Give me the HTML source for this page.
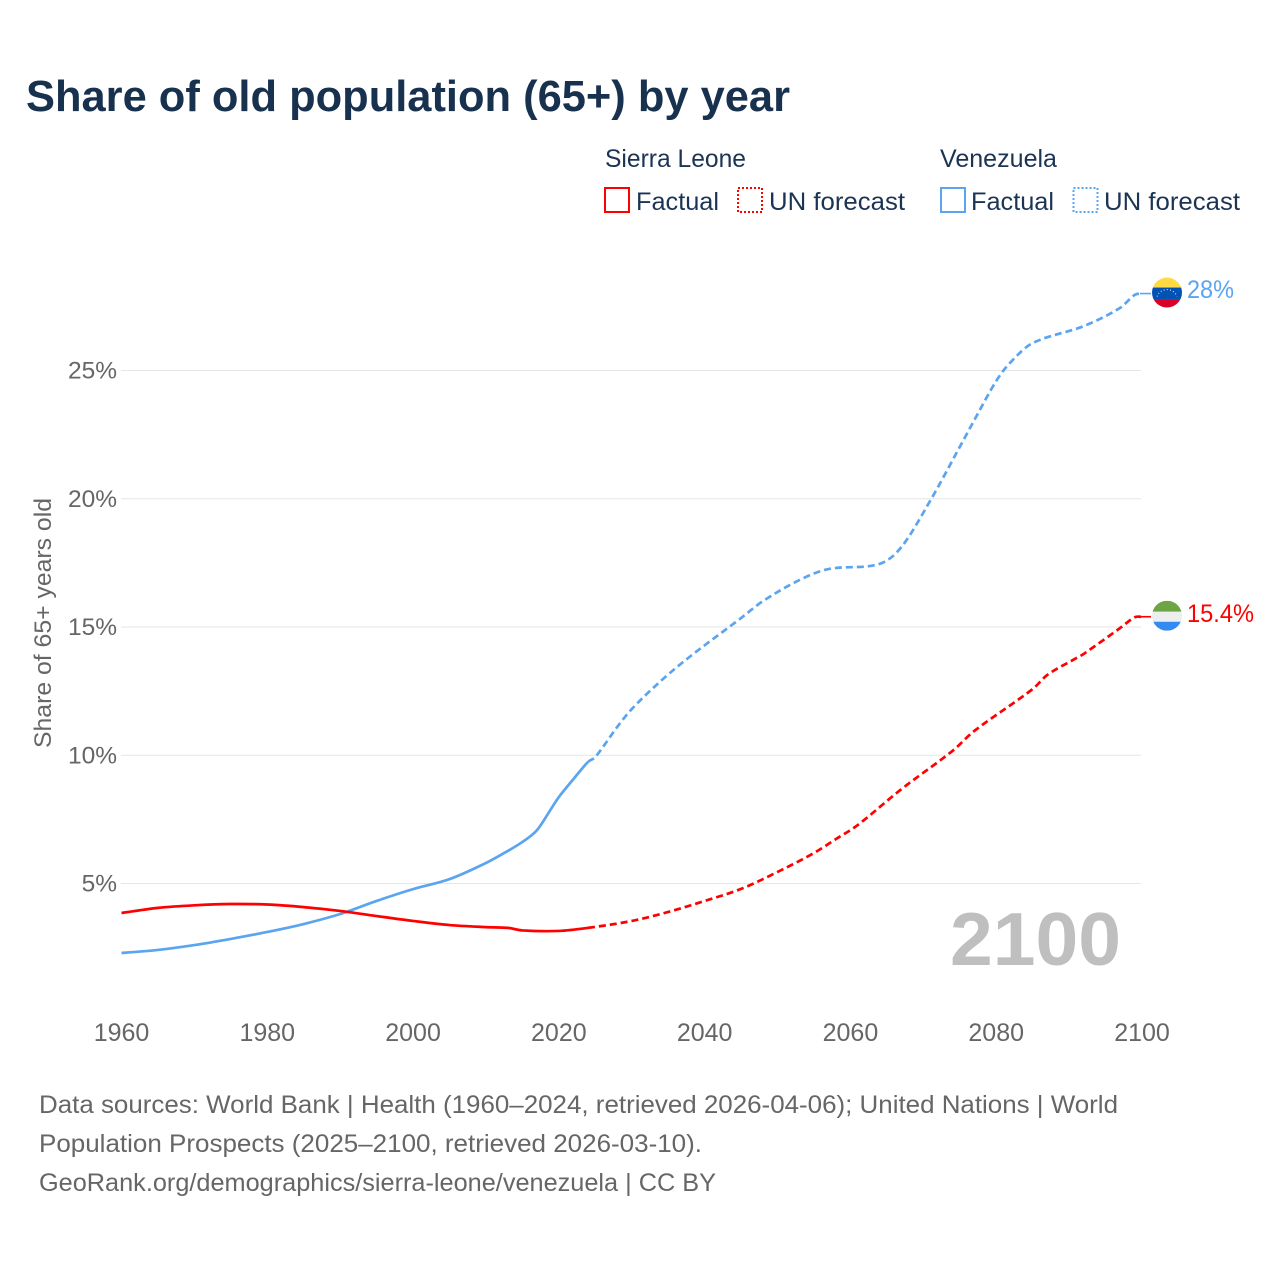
<!DOCTYPE html>
<html lang="en">
<head>
<meta charset="utf-8">
<title>Share of old population (65+) by year</title>
<style>
html,body{margin:0;padding:0;background:#fff;}
svg{display:block;font-family:"Liberation Sans",sans-serif;}
</style>
</head>
<body>
<svg id="chart" xmlns="http://www.w3.org/2000/svg" width="1280" height="1280" viewBox="0 0 1280 1280">
  <rect width="1280" height="1280" fill="#ffffff"/>
  <defs>
    <clipPath id="clip-ve"><circle cx="0" cy="0" r="15"/></clipPath>
    <clipPath id="clip-sl"><circle cx="0" cy="0" r="15"/></clipPath>
  </defs>
  <text x="26" y="111" font-size="44" font-weight="700" fill="#18314f" textLength="764" lengthAdjust="spacingAndGlyphs">Share of old population (65+) by year</text>

  <g font-size="25" fill="#1b3454">
    <text x="605" y="167" textLength="141" lengthAdjust="spacingAndGlyphs">Sierra Leone</text>
    <rect x="605" y="188" width="24" height="24" fill="none" stroke="#ff0000" stroke-width="2"/>
    <text x="636" y="210" textLength="83" lengthAdjust="spacingAndGlyphs">Factual</text>
    <rect x="738" y="188" width="24" height="24" fill="none" stroke="#ff0000" stroke-width="2" stroke-dasharray="2 2"/>
    <text x="769" y="210" textLength="136" lengthAdjust="spacingAndGlyphs">UN forecast</text>
    <text x="940" y="167" textLength="117" lengthAdjust="spacingAndGlyphs">Venezuela</text>
    <rect x="941" y="188" width="24" height="24" fill="none" stroke="#5ba4f0" stroke-width="2"/>
    <text x="971" y="210" textLength="83" lengthAdjust="spacingAndGlyphs">Factual</text>
    <rect x="1073.5" y="188" width="24" height="24" fill="none" stroke="#5ba4f0" stroke-width="2" stroke-dasharray="2 2"/>
    <text x="1104" y="210" textLength="136" lengthAdjust="spacingAndGlyphs">UN forecast</text>
  </g>

  <text transform="translate(51,623) rotate(-90)" text-anchor="middle" font-size="24" fill="#666666" textLength="250" lengthAdjust="spacingAndGlyphs">Share of 65+ years old</text>

  <g id="grid"></g>
  <g id="y-ticks"></g>
  <g id="x-ticks"></g>

  <text x="950" y="965" font-size="75" font-weight="700" fill="#bfbfbf" textLength="171" lengthAdjust="spacingAndGlyphs">2100</text>

  <g id="series"></g>

  <g id="flag-ve">
    <g clip-path="url(#clip-ve)">
      <rect x="-15" y="-15" width="30" height="10" fill="#ffda44"/>
      <rect x="-15" y="-5" width="30" height="12" fill="#0052b4"/>
      <rect x="-15" y="7" width="30" height="8" fill="#d80027"/>
      <path d="M-10 4 A10.5 10 0 0 1 10 4" fill="none" stroke="#f0f0f0" stroke-width="1" stroke-dasharray="1 2.2"/>
    </g>
  </g>
  <g id="flag-sl">
    <g clip-path="url(#clip-sl)">
      <rect x="-15" y="-15" width="30" height="11" fill="#6da544"/>
      <rect x="-15" y="-4" width="30" height="10" fill="#eeeeee"/>
      <rect x="-15" y="6" width="30" height="9" fill="#338af3"/>
    </g>
  </g>
  <text id="label-ve" x="1187" font-size="25" fill="#5ba4f0" textLength="47" lengthAdjust="spacingAndGlyphs"></text>
  <text id="label-sl" x="1187" font-size="25" fill="#ff0000" textLength="67" lengthAdjust="spacingAndGlyphs"></text>

  <g font-size="25" fill="#666666">
    <text x="39" y="1113" textLength="1079" lengthAdjust="spacingAndGlyphs">Data sources: World Bank | Health (1960–2024, retrieved 2026-04-06); United Nations | World</text>
    <text x="39" y="1152" textLength="663" lengthAdjust="spacingAndGlyphs">Population Prospects (2025–2100, retrieved 2026-03-10).</text>
    <text x="39" y="1191" textLength="677" lengthAdjust="spacingAndGlyphs">GeoRank.org/demographics/sierra-leone/venezuela | CC BY</text>
  </g>
</svg>
<script>
const xTickYears = [1960, 1980, 2000, 2020, 2040, 2060, 2080, 2100];
const yTickValues = [5, 10, 15, 20, 25];
const yTickLabels = ['5%', '10%', '15%', '20%', '25%'];

const lastFactualYear = 2024;

const venezuelaYears = [1960, 1965, 1970, 1975, 1980, 1985, 1990, 1995, 2000, 2005, 2010, 2013, 2015, 2017, 2019, 2020, 2022, 2024, 2025, 2028, 2030, 2034, 2038, 2045, 2048, 2053, 2057, 2064, 2067, 2071, 2075, 2077, 2080, 2082, 2085, 2092, 2097, 2099, 2100];
const venezuelaValues = [2.29, 2.41, 2.60, 2.84, 3.11, 3.42, 3.81, 4.32, 4.78, 5.17, 5.80, 6.27, 6.62, 7.08, 7.94, 8.37, 9.07, 9.74, 9.93, 11.10, 11.80, 12.90, 13.85, 15.35, 16.01, 16.83, 17.26, 17.46, 18.12, 19.95, 22.02, 23.07, 24.59, 25.33, 26.07, 26.73, 27.44, 27.95, 28.0];
const venezuelaLabel = '28%';

const sierraLeoneYears = [1960, 1965, 1970, 1975, 1980, 1985, 1990, 1995, 2000, 2005, 2010, 2013, 2015, 2020, 2024, 2030, 2035, 2040, 2045, 2050, 2055, 2058, 2061, 2067, 2074, 2077, 2085, 2087, 2091, 2092, 2097, 2099, 2100];
const sierraLeoneValues = [3.85, 4.05, 4.15, 4.20, 4.18, 4.08, 3.93, 3.73, 3.54, 3.38, 3.30, 3.27, 3.17, 3.15, 3.27, 3.54, 3.89, 4.32, 4.79, 5.45, 6.19, 6.73, 7.28, 8.68, 10.17, 10.95, 12.58, 13.13, 13.79, 13.95, 14.96, 15.38, 15.4];
const sierraLeoneLabel = '15.4%';

const SVGNS = 'http://www.w3.org/2000/svg';
function xScale(year) { return 121.5 + (year - 1960) * (1020.5 / 140); }
function yScale(value) { return 1011.75 - value * 25.65; }
function make(tag, parent) {
  const el = document.createElementNS(SVGNS, tag);
  parent.appendChild(el);
  return el;
}

const gridGroup = document.getElementById('grid');
const yTickGroup = document.getElementById('y-ticks');
yTickValues.forEach(function (value, i) {
  const y = yScale(value);
  const line = make('line', gridGroup);
  
  
  line.setAttribute('x1', 121);
  line.setAttribute('x2', 1141);
  line.setAttribute('y1', y);
  line.setAttribute('y2', y);
  line.setAttribute('stroke', '#e6e6e6');
  line.setAttribute('stroke-width', '1');
  const label = make('text', yTickGroup);
  
  
  label.setAttribute('x', 117);
  label.setAttribute('y', y + 8);
  label.setAttribute('text-anchor', 'end');
  label.setAttribute('font-size', '24.5');
  label.setAttribute('fill', '#666666');
  label.textContent = yTickLabels[i];
});

const xTickGroup = document.getElementById('x-ticks');
xTickYears.forEach(function (year) {
  const label = make('text', xTickGroup);
  
  
  label.setAttribute('x', xScale(year));
  label.setAttribute('y', 1041);
  label.setAttribute('text-anchor', 'middle');
  label.setAttribute('font-size', '25');
  label.setAttribute('fill', '#666666');
  label.textContent = String(year);
});

// Smooth path through the data points (Catmull-Rom to cubic Bezier), clipped to one segment of the series.
function pathFor(years, values, test) {
  const pts = [];
  years.forEach(function (year, i) {
    pts.push({ year: year, x: xScale(year), y: yScale(values[i]) });
  });
  let d = '';
  for (let i = 0; i < pts.length; i++) {
    if (!test(pts[i].year)) continue;
    if (!d) {
      d = 'M' + pts[i].x.toFixed(2) + ' ' + pts[i].y.toFixed(2);
      continue;
    }
    const p0 = pts[Math.max(i - 2, 0)];
    const p1 = pts[i - 1];
    const p2 = pts[i];
    const p3 = pts[Math.min(i + 1, pts.length - 1)];
    const span = p2.x - p1.x;
    const m1 = (p2.y - p0.y) / (p2.x - p0.x);
    const m2 = (p3.y - p1.y) / ((p3.x - p1.x) || 1);
    d += ' C' + (p1.x + span / 3).toFixed(2) + ' ' + (p1.y + m1 * span / 3).toFixed(2) +
         ' ' + (p2.x - span / 3).toFixed(2) + ' ' + (p2.y - m2 * span / 3).toFixed(2) +
         ' ' + p2.x.toFixed(2) + ' ' + p2.y.toFixed(2);
  }
  return d;
}

const seriesGroup = document.getElementById('series');
function drawSeries(years, values, color, prefix) {
  const solid = make('path', seriesGroup);
  
  
  solid.setAttribute('d', pathFor(years, values, function (y) { return y <= lastFactualYear; }));
  solid.setAttribute('fill', 'none');
  solid.setAttribute('stroke', color);
  solid.setAttribute('stroke-width', '2.7');
  solid.setAttribute('stroke-linejoin', 'round');

  const dashed = make('path', seriesGroup);
  
  
  dashed.setAttribute('d', pathFor(years, values, function (y) { return y >= lastFactualYear; }));
  dashed.setAttribute('fill', 'none');
  dashed.setAttribute('stroke', color);
  dashed.setAttribute('stroke-width', '2.7');
  dashed.setAttribute('stroke-dasharray', '7 4');

  const endValue = values[values.length - 1];
  const endYear = years[years.length - 1];
  const connector = make('line', seriesGroup);
  
  
  connector.setAttribute('x1', xScale(endYear) - 2);
  connector.setAttribute('x2', xScale(endYear) + 9);
  connector.setAttribute('y1', yScale(endValue));
  connector.setAttribute('y2', yScale(endValue));
  connector.setAttribute('stroke', color);
  connector.setAttribute('stroke-width', '1.6');
  return yScale(endValue);
}

const endVe = drawSeries(venezuelaYears, venezuelaValues, '#5ba4f0', 'venezuela');
const endSl = drawSeries(sierraLeoneYears, sierraLeoneValues, '#ff0000', 'sierra-leone');

document.getElementById('flag-ve').setAttribute('transform', 'translate(1167,' + (endVe - 1) + ')');
document.getElementById('flag-sl').setAttribute('transform', 'translate(1167,' + (endSl - 1) + ')');
const labelVe = document.getElementById('label-ve');
labelVe.setAttribute('y', endVe + 4.5);
labelVe.textContent = venezuelaLabel;
const labelSl = document.getElementById('label-sl');
labelSl.setAttribute('y', endSl + 5.5);
labelSl.textContent = sierraLeoneLabel;
</script>
</body>
</html>
